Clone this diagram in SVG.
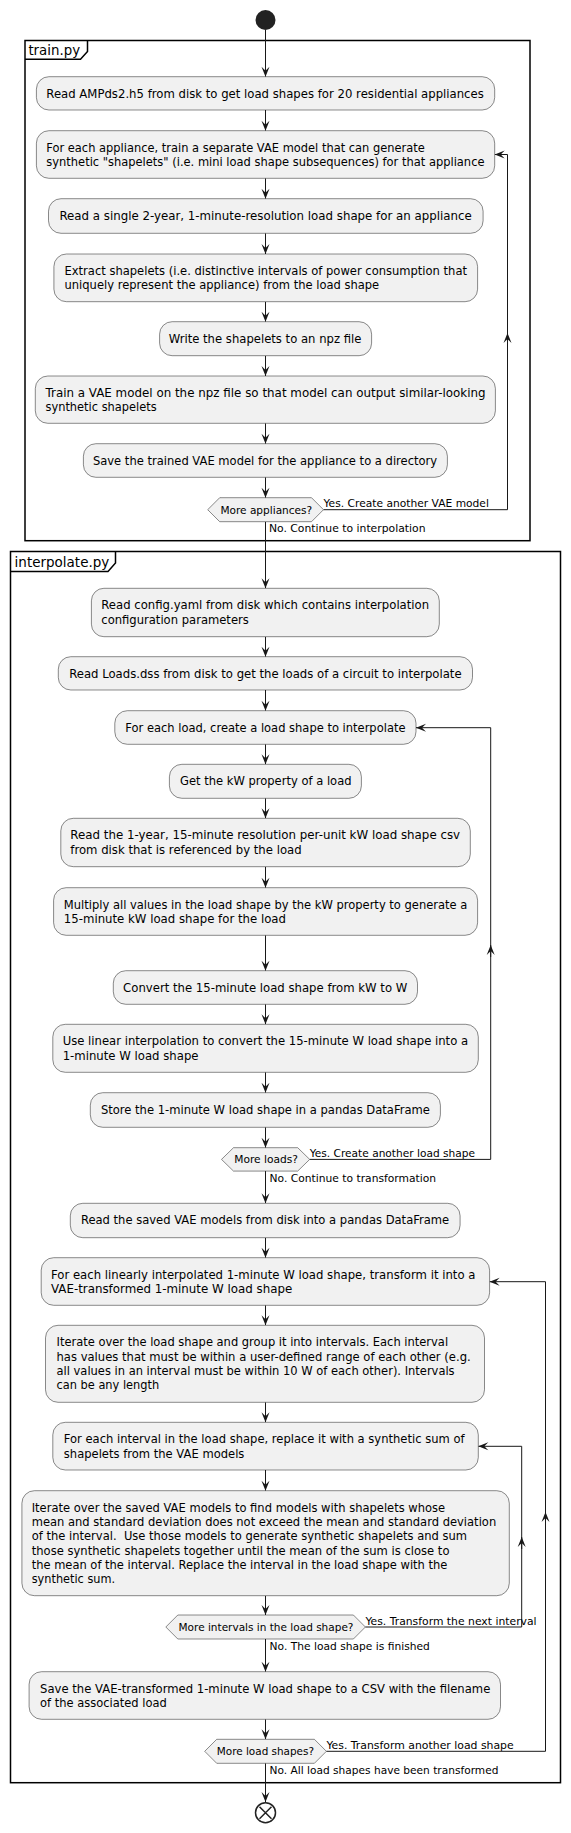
<svg xmlns="http://www.w3.org/2000/svg" width="571" height="1833" viewBox="0 0 571 1833">
<style>
.box{fill:#F1F1F1;stroke:#181818;stroke-width:0.5}
.t{font-family:"DejaVu Sans","Liberation Sans",sans-serif;font-size:11.6px;fill:#000}
.d{font-family:"DejaVu Sans","Liberation Sans",sans-serif;font-size:10.6px;fill:#000}
.f{font-family:"DejaVu Sans","Liberation Sans",sans-serif;font-size:13.3px;fill:#000}
.frame{fill:none;stroke:#000;stroke-width:1.5}
.c{fill:none;stroke:#181818;stroke-width:1}
.ca{fill:none;stroke:#181818;stroke-width:1;marker-end:url(#arr)}
</style>
<defs>
<marker id="arr" markerUnits="userSpaceOnUse" markerWidth="12" markerHeight="10" viewBox="-11 -5 12 10" refX="0" refY="0" orient="auto">
<path d="M0,0 L-10,-4 L-6,0 L-10,4 Z" fill="#181818"/>
</marker>
</defs>

<g id="frames">
<g id="frame-train">
<rect class="frame" x="25" y="40.5" width="505" height="500.2"/>
<path class="frame" d="M25,59.3 H80.5 L87.5,51.5 V40.5"/>
<text class="f" x="28.4" y="55.2" textLength="51.7" lengthAdjust="spacingAndGlyphs">train.py</text>
</g>
<g id="frame-interpolate">
<rect class="frame" x="10.5" y="551.5" width="550" height="1231.2"/>
<path class="frame" d="M10.5,571.5 H108 L115.5,563 V551.5"/>
<text class="f" x="14.6" y="566.5" textLength="94.7" lengthAdjust="spacingAndGlyphs">interpolate.py</text>
</g>
</g>

<g id="connectors">
<line class="ca" x1="265.5" y1="30" x2="265.5" y2="76.7"/>
<line class="ca" x1="265.5" y1="110" x2="265.5" y2="130.7"/>
<line class="ca" x1="265.5" y1="178.3" x2="265.5" y2="198.7"/>
<line class="ca" x1="265.5" y1="233.3" x2="265.5" y2="254"/>
<line class="ca" x1="265.5" y1="301.7" x2="265.5" y2="321.7"/>
<line class="ca" x1="265.5" y1="355.7" x2="265.5" y2="376"/>
<line class="ca" x1="265.5" y1="423.3" x2="265.5" y2="443.7"/>
<line class="ca" x1="265.5" y1="477.3" x2="265.5" y2="497.7"/>
<line class="ca" x1="265.5" y1="521.7" x2="265.5" y2="588.3"/>
<line class="ca" x1="265.5" y1="636.7" x2="265.5" y2="656.7"/>
<line class="ca" x1="265.5" y1="690" x2="265.5" y2="710.7"/>
<line class="ca" x1="265.5" y1="744.3" x2="265.5" y2="764.3"/>
<line class="ca" x1="265.5" y1="798.3" x2="265.5" y2="818.3"/>
<line class="ca" x1="265.5" y1="866.7" x2="265.5" y2="887.7"/>
<line class="ca" x1="265.5" y1="935.3" x2="265.5" y2="970.7"/>
<line class="ca" x1="265.5" y1="1004.3" x2="265.5" y2="1024.3"/>
<line class="ca" x1="265.5" y1="1072.3" x2="265.5" y2="1092.7"/>
<line class="ca" x1="265.5" y1="1127.3" x2="265.5" y2="1147.7"/>
<line class="ca" x1="265.5" y1="1171.1" x2="265.5" y2="1203.3"/>
<line class="ca" x1="265.5" y1="1237.7" x2="265.5" y2="1257.7"/>
<line class="ca" x1="265.5" y1="1305.3" x2="265.5" y2="1325.3"/>
<line class="ca" x1="265.5" y1="1402.3" x2="265.5" y2="1422.3"/>
<line class="ca" x1="265.5" y1="1470" x2="265.5" y2="1490.7"/>
<line class="ca" x1="265.5" y1="1595.7" x2="265.5" y2="1615"/>
<line class="ca" x1="265.5" y1="1639" x2="265.5" y2="1671.7"/>
<line class="ca" x1="265.5" y1="1719.3" x2="265.5" y2="1739.3"/>
<line class="ca" x1="265.5" y1="1763.3" x2="265.5" y2="1802"/>

<path class="ca" d="M323.5,509.7 H507.5 V154.5 H494.7"/>
<path class="ca" d="M507.5,345 V333"/>
<path class="ca" d="M309.7,1159.4 H490.7 V727.7 H416"/>
<path class="ca" d="M490.7,957 V945"/>
<path class="ca" d="M365.4,1627 H521.7 V1446.3 H478.3"/>
<path class="ca" d="M521.7,1549 V1537"/>
<path class="ca" d="M326.4,1751.3 H545.5 V1281.7 H489.6"/>
<path class="ca" d="M545.5,1524 V1512"/>

<text class="d" x="323.5" y="507" textLength="165.4" lengthAdjust="spacingAndGlyphs">Yes. Create another VAE model</text>
<text class="d" x="268.9" y="532" textLength="156.6" lengthAdjust="spacingAndGlyphs">No. Continue to interpolation</text>
<text class="d" x="309.7" y="1157" textLength="165.3" lengthAdjust="spacingAndGlyphs">Yes. Create another load shape</text>
<text class="d" x="269.6" y="1182" textLength="166.5" lengthAdjust="spacingAndGlyphs">No. Continue to transformation</text>
<text class="d" x="365.4" y="1625" textLength="171.2" lengthAdjust="spacingAndGlyphs">Yes. Transform the next interval</text>
<text class="d" x="269.6" y="1650" textLength="160.3" lengthAdjust="spacingAndGlyphs">No. The load shape is finished</text>
<text class="d" x="326.4" y="1749" textLength="187.3" lengthAdjust="spacingAndGlyphs">Yes. Transform another load shape</text>
<text class="d" x="269.6" y="1774" textLength="228.8" lengthAdjust="spacingAndGlyphs">No. All load shapes have been transformed</text>
</g>

<g id="start"><circle cx="265.5" cy="20" r="10" fill="#222222"/></g>

<g id="n1"><rect class="box" x="36.4" y="76.7" width="458.3" height="33.3" rx="12.5"/>
<text class="t" x="46.3" y="97.7" textLength="437.5" lengthAdjust="spacingAndGlyphs">Read AMPds2.h5 from disk to get load shapes for 20 residential appliances</text></g>

<g id="n2"><rect class="box" x="36.4" y="130.7" width="458.3" height="47.6" rx="12.5"/>
<text class="t" x="46.3" y="151.7" textLength="378.5" lengthAdjust="spacingAndGlyphs">For each appliance, train a separate VAE model that can generate</text>
<text class="t" x="46.3" y="166" textLength="438.2" lengthAdjust="spacingAndGlyphs">synthetic "shapelets" (i.e. mini load shape subsequences) for that appliance</text></g>

<g id="n3"><rect class="box" x="48.5" y="198.7" width="434.6" height="34.6" rx="12.5"/>
<text class="t" x="59.4" y="219.7" textLength="412.4" lengthAdjust="spacingAndGlyphs">Read a single 2-year, 1-minute-resolution load shape for an appliance</text></g>

<g id="n4"><rect class="box" x="53.9" y="254" width="423.7" height="47.7" rx="12.5"/>
<text class="t" x="64.5" y="275" textLength="402.5" lengthAdjust="spacingAndGlyphs">Extract shapelets (i.e. distinctive intervals of power consumption that</text>
<text class="t" x="64.5" y="289.3" textLength="314.7" lengthAdjust="spacingAndGlyphs">uniquely represent the appliance) from the load shape</text></g>

<g id="n5"><rect class="box" x="159.6" y="321.7" width="212" height="34" rx="12.5"/>
<text class="t" x="168.7" y="342.7" textLength="192.7" lengthAdjust="spacingAndGlyphs">Write the shapelets to an npz file</text></g>

<g id="n6"><rect class="box" x="35.3" y="376" width="460.1" height="47.3" rx="12.5"/>
<text class="t" x="45.5" y="397" textLength="440.1" lengthAdjust="spacingAndGlyphs">Train a VAE model on the npz file so that model can output similar-looking</text>
<text class="t" x="45.5" y="411.3" textLength="111.1" lengthAdjust="spacingAndGlyphs">synthetic shapelets</text></g>

<g id="n7"><rect class="box" x="83.4" y="443.7" width="364" height="33.6" rx="12.5"/>
<text class="t" x="92.9" y="464.7" textLength="344.3" lengthAdjust="spacingAndGlyphs">Save the trained VAE model for the appliance to a directory</text></g>

<g id="d1"><polygon class="box" points="207.7,509.7 219.7,497.7 311.5,497.7 323.5,509.7 311.5,521.7 219.7,521.7"/>
<text class="d" x="266.3" y="513.8" text-anchor="middle" textLength="91.8" lengthAdjust="spacingAndGlyphs">More appliances?</text></g>

<g id="n8"><rect class="box" x="91.4" y="588.3" width="347.9" height="48.4" rx="12.5"/>
<text class="t" x="101.3" y="609.3" textLength="327.8" lengthAdjust="spacingAndGlyphs">Read config.yaml from disk which contains interpolation</text>
<text class="t" x="101.3" y="623.6" textLength="147.5" lengthAdjust="spacingAndGlyphs">configuration parameters</text></g>

<g id="n9"><rect class="box" x="58.3" y="656.7" width="414.2" height="33.3" rx="12.5"/>
<text class="t" x="69.2" y="677.7" textLength="392.4" lengthAdjust="spacingAndGlyphs">Read Loads.dss from disk to get the loads of a circuit to interpolate</text></g>

<g id="n10"><rect class="box" x="114.8" y="710.7" width="301.2" height="33.6" rx="12.5"/>
<text class="t" x="125.3" y="731.7" textLength="280.2" lengthAdjust="spacingAndGlyphs">For each load, create a load shape to interpolate</text></g>

<g id="n11"><rect class="box" x="169.4" y="764.3" width="192" height="34" rx="12.5"/>
<text class="t" x="180" y="785.3" textLength="171.5" lengthAdjust="spacingAndGlyphs">Get the kW property of a load</text></g>

<g id="n12"><rect class="box" x="60.8" y="818.3" width="409.5" height="48.4" rx="12.5"/>
<text class="t" x="70.3" y="839.3" textLength="389.8" lengthAdjust="spacingAndGlyphs">Read the 1-year, 15-minute resolution per-unit kW load shape csv</text>
<text class="t" x="70.3" y="853.6" textLength="231.3" lengthAdjust="spacingAndGlyphs">from disk that is referenced by the load</text></g>

<g id="n13"><rect class="box" x="53.6" y="887.7" width="424" height="47.6" rx="12.5"/>
<text class="t" x="63.8" y="908.7" textLength="403.6" lengthAdjust="spacingAndGlyphs">Multiply all values in the load shape by the kW property to generate a</text>
<text class="t" x="63.8" y="923" textLength="222.2" lengthAdjust="spacingAndGlyphs">15-minute kW load shape for the load</text></g>

<g id="n14"><rect class="box" x="113.3" y="970.7" width="304.2" height="33.6" rx="12.5"/>
<text class="t" x="123.1" y="991.7" textLength="284.2" lengthAdjust="spacingAndGlyphs">Convert the 15-minute load shape from kW to W</text></g>

<g id="n15"><rect class="box" x="52.8" y="1024.3" width="425.5" height="48" rx="12.5"/>
<text class="t" x="62.7" y="1045.3" textLength="405.4" lengthAdjust="spacingAndGlyphs">Use linear interpolation to convert the 15-minute W load shape into a</text>
<text class="t" x="62.7" y="1059.6" textLength="135.8" lengthAdjust="spacingAndGlyphs">1-minute W load shape</text></g>

<g id="n16"><rect class="box" x="90.3" y="1092.7" width="350.1" height="34.6" rx="12.5"/>
<text class="t" x="100.9" y="1113.7" textLength="329" lengthAdjust="spacingAndGlyphs">Store the 1-minute W load shape in a pandas DataFrame</text></g>

<g id="d2"><polygon class="box" points="221.5,1159.4 233.5,1147.7 297.7,1147.7 309.7,1159.4 297.7,1171.1 233.5,1171.1"/>
<text class="d" x="266.1" y="1163" text-anchor="middle" textLength="63.8" lengthAdjust="spacingAndGlyphs">More loads?</text></g>

<g id="n17"><rect class="box" x="70.3" y="1203.3" width="389.8" height="34.4" rx="12.5"/>
<text class="t" x="80.9" y="1224.3" textLength="368.3" lengthAdjust="spacingAndGlyphs">Read the saved VAE models from disk into a pandas DataFrame</text></g>

<g id="n18"><rect class="box" x="41.2" y="1257.7" width="448.4" height="47.6" rx="12.5"/>
<text class="t" x="51" y="1278.7" textLength="424.4" lengthAdjust="spacingAndGlyphs">For each linearly interpolated 1-minute W load shape, transform it into a</text>
<text class="t" x="51" y="1293" textLength="241.2" lengthAdjust="spacingAndGlyphs">VAE-transformed 1-minute W load shape</text></g>

<g id="n19"><rect class="box" x="45.5" y="1325.3" width="439" height="77" rx="12.5"/>
<text class="t" x="56.5" y="1346.3" textLength="391.6" lengthAdjust="spacingAndGlyphs">Iterate over the load shape and group it into intervals. Each interval</text>
<text class="t" x="56.5" y="1360.6" textLength="414.2" lengthAdjust="spacingAndGlyphs">has values that must be within a user-defined range of each other (e.g.</text>
<text class="t" x="56.5" y="1374.9" textLength="398.1" lengthAdjust="spacingAndGlyphs">all values in an interval must be within 10 W of each other). Intervals</text>
<text class="t" x="56.5" y="1389.2" textLength="102.7" lengthAdjust="spacingAndGlyphs">can be any length</text></g>

<g id="n20"><rect class="box" x="52.8" y="1422.3" width="425.5" height="47.7" rx="12.5"/>
<text class="t" x="63.8" y="1443.3" textLength="400.7" lengthAdjust="spacingAndGlyphs">For each interval in the load shape, replace it with a synthetic sum of</text>
<text class="t" x="63.8" y="1457.6" textLength="180.6" lengthAdjust="spacingAndGlyphs">shapelets from the VAE models</text></g>

<g id="n21"><rect class="box" x="21.9" y="1490.7" width="487.4" height="105" rx="12.5"/>
<text class="t" x="31.7" y="1511.7" textLength="413.5" lengthAdjust="spacingAndGlyphs">Iterate over the saved VAE models to find models with shapelets whose</text>
<text class="t" x="31.7" y="1526" textLength="464.5" lengthAdjust="spacingAndGlyphs">mean and standard deviation does not exceed the mean and standard deviation</text>
<text class="t" x="31.7" y="1540.3" textLength="435.3" lengthAdjust="spacingAndGlyphs" xml:space="preserve">of the interval.  Use those models to generate synthetic shapelets and sum</text>
<text class="t" x="31.7" y="1554.6" textLength="417.8" lengthAdjust="spacingAndGlyphs">those synthetic shapelets together until the mean of the sum is close to</text>
<text class="t" x="31.7" y="1568.9" textLength="415.7" lengthAdjust="spacingAndGlyphs">the mean of the interval. Replace the interval in the load shape with the</text>
<text class="t" x="31.7" y="1583.2" textLength="83.4" lengthAdjust="spacingAndGlyphs">synthetic sum.</text></g>

<g id="d3"><polygon class="box" points="165.8,1627 177.8,1615 353.4,1615 365.4,1627 353.4,1639 177.8,1639"/>
<text class="d" x="266" y="1630.6" text-anchor="middle" textLength="174.9" lengthAdjust="spacingAndGlyphs">More intervals in the load shape?</text></g>

<g id="n22"><rect class="box" x="29.1" y="1671.7" width="471.4" height="47.6" rx="12.5"/>
<text class="t" x="40.1" y="1692.7" textLength="450.2" lengthAdjust="spacingAndGlyphs">Save the VAE-transformed 1-minute W load shape to a CSV with the filename</text>
<text class="t" x="40.1" y="1707" textLength="126.7" lengthAdjust="spacingAndGlyphs">of the associated load</text></g>

<g id="d4"><polygon class="box" points="204.7,1751.3 216.7,1739.3 314.4,1739.3 326.4,1751.3 314.4,1763.3 216.7,1763.3"/>
<text class="d" x="265.4" y="1755.2" text-anchor="middle" textLength="97.2" lengthAdjust="spacingAndGlyphs">More load shapes?</text></g>

<g id="end">
<circle cx="265.5" cy="1812.7" r="10" fill="none" stroke="#222222" stroke-width="1.5"/>
<path d="M259.5,1806.7 L271.5,1818.7 M271.5,1806.7 L259.5,1818.7" stroke="#222222" stroke-width="1.5"/>
</g>
</svg>
